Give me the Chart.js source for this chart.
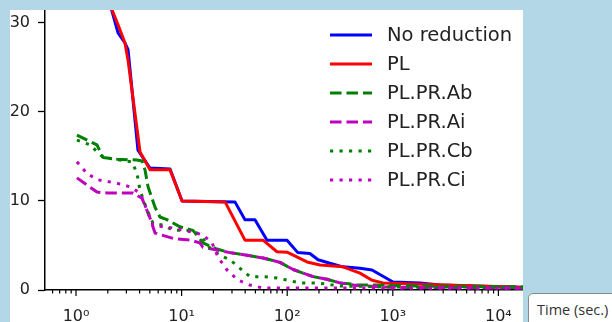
<!DOCTYPE html>
<html><head><meta charset="utf-8">
<script src="https://cdn.jsdelivr.net/npm/chart.js@4.4.1/dist/chart.umd.min.js"></script>
<style>
html,body{margin:0;padding:0;}
body{width:612px;height:322px;background:#b3d7e6;position:relative;overflow:hidden;}
#panel{position:absolute;left:10px;top:10px;width:513px;height:312px;background:#fff;}
#c{display:block;}
#tag{position:absolute;left:528px;top:293px;width:100px;height:40px;box-sizing:border-box;border:1px solid #8a8a8a;border-radius:5px;background:#fff;font-family:'Open Sans',sans-serif;font-size:14.5px;line-height:19px;color:#333;padding:6px 0 0 8px;white-space:nowrap;}
</style></head>
<body>
<div id="panel"><canvas id="c" width="513" height="312"></canvas></div>
<div id="tag">Time (sec.)</div>
<script>
// ---- data (time in seconds, value) ----
const seriesLabels = ['No reduction','PL','PL.PR.Ab','PL.PR.Ai','PL.PR.Cb','PL.PR.Ci'];
const noReduction = [[2.0,33],[2.5,28.9],[2.91,27.75],[3.11,27.0],[3.86,15.7],[5.02,13.7],[7.77,13.6],[10.1,10.0],[32.0,9.9],[39.8,7.9],[49.5,7.9],[64.4,5.6],[99.6,5.6],[126,4.2],[164,4.1],[196,3.4],[254,3.0],[337,2.6],[489,2.45],[635,2.25],[1005,0.9],[1811,0.8],[2800,0.55],[20000,0.25]];
const pl = [[2.0,33],[2.19,31.5],[2.5,29.8],[2.91,27.75],[3.11,25.8],[4.04,15.5],[5.02,13.5],[7.77,13.5],[10.1,10.0],[25.8,9.9],[39.8,5.6],[59.0,5.6],[80,4.3],[99.6,4.25],[154,3.15],[205,2.8],[337,2.6],[489,1.9],[635,1.1],[807,0.8],[1811,0.65],[20000,0.3]];
const plPrAb = [[1.02,17.4],[1.58,16.3],[1.80,14.9],[2.44,14.7],[3.78,14.6],[4.22,14.5],[4.50,13.5],[4.81,11.6],[5.60,9.3],[6.24,8.2],[7.27,7.9],[9.66,7.1],[12.8,6.7],[14.3,6.0],[15.9,5.3],[21.6,4.6],[28.7,4.2],[41.6,3.9],[59.0,3.6],[68.7,3.4],[85.5,3.1],[114,2.3],[141,1.9],[176,1.5],[238,1.2],[316,0.8],[458,0.6],[1000,0.5],[3000,0.4],[20000,0.35]];
const plPrAi = [[1.02,12.6],[1.58,11.0],[1.97,10.9],[3.47,10.9],[4.22,10.3],[5.02,8.1],[5.60,6.4],[8.29,5.8],[12.0,5.6],[14.9,5.3],[15.9,4.8],[21.6,4.5],[28.7,4.2],[41.6,3.9],[59.0,3.6],[68.7,3.4],[85.5,3.1],[114,2.3],[141,1.9],[176,1.5],[238,1.2],[316,0.8],[458,0.5],[1000,0.3],[20000,0.2]];
const plPrCb = [[1.02,16.85],[1.36,16.3],[1.80,14.9],[3.39,14.4],[3.78,13.1],[4.04,11.2],[4.70,9.0],[5.36,7.5],[6.66,7.3],[8.29,6.7],[11.2,6.7],[14.0,6.4],[15.9,5.8],[18.6,4.7],[23.1,3.9],[28.7,3.4],[37.3,2.25],[44.4,1.5],[59.0,1.5],[80.0,1.35],[132,0.8],[192,0.8],[316,0.45],[1000,0.35],[20000,0.3]];
const plPrCi = [[1.02,14.4],[1.27,13.1],[1.58,12.4],[2.44,12.0],[3.24,11.6],[4.04,10.9],[5.02,8.1],[5.36,7.3],[6.66,7.1],[8.29,6.97],[12.8,6.5],[15.9,6.18],[19.4,5.3],[22.1,3.7],[26.9,2.25],[34.2,1.12],[44.4,0.56],[59.0,0.22],[20000,0.2]];
const yTickValues = [0,10,20,30];
const xRange = [0.5085, 17100];
const yRange = [0, 31.46];

// ---- styles ----
const styles = [
  {color:'#0000ff', dash:[]},
  {color:'#ff0000', dash:[]},
  {color:'#008000', dash:[11.5,5]},
  {color:'#bf00bf', dash:[11.5,5]},
  {color:'#008000', dash:[3.2,6.3]},
  {color:'#bf00bf', dash:[3.2,6.3]}
];
const allSeries = [noReduction, pl, plPrAb, plPrAi, plPrCb, plPrCi];
const LW = 3;

const sup = {'0':'\u2070','1':'\u00b9','2':'\u00b2','3':'\u00b3','4':'\u2074','5':'\u2075','-':'\u207b'};
function powLabel(v){
  const e = Math.round(Math.log10(v));
  return '10' + String(e).split('').map(ch=>sup[ch]).join('');
}

const datasets = allSeries.map((s,i)=>({
  label: seriesLabels[i],
  data: s.map(([x,y])=>({x:x,y:y})),
  borderColor: styles[i].color,
  backgroundColor: styles[i].color,
  borderDash: styles[i].dash,
  borderWidth: LW,
  borderCapStyle: 'butt',
  borderJoinStyle: 'round',
  pointRadius: 0,
  tension: 0,
  fill: false,
  order: allSeries.length - i
}));

const tickPlugin = {
  id:'mplTicks',
  afterDraw(chart){
    const s = chart.scales.x, ctx = chart.ctx, y0 = chart.chartArea.bottom;
    ctx.save();
    ctx.strokeStyle = '#000';
    ctx.lineWidth = 1.2;
    s.ticks.forEach(t=>{
      const px = s.getPixelForValue(t.value);
      const len = t.major ? 6 : 3.5;
      ctx.beginPath(); ctx.moveTo(px, y0); ctx.lineTo(px, y0+len); ctx.stroke();
    });
    ctx.restore();
  }
};

const legendPlugin = {
  id:'mplLegend',
  afterDraw(chart){
    const ctx = chart.ctx;
    const W = chart.width;
    const lx0 = W - 193, lx1 = W - 151, tx = W - 136;
    const y0 = 25, dy = 29;
    ctx.save();
    chart.data.datasets.forEach((ds,i)=>{
      const y = y0 + i*dy;
      ctx.strokeStyle = ds.borderColor;
      ctx.lineWidth = ds.borderWidth;
      ctx.lineCap = 'butt';
      ctx.setLineDash(ds.borderDash);
      ctx.beginPath(); ctx.moveTo(lx0, y); ctx.lineTo(lx1, y); ctx.stroke();
      ctx.setLineDash([]);
      ctx.fillStyle = '#222';
      ctx.font = '19.5px "DejaVu Sans"';
      ctx.textBaseline = 'middle';
      ctx.textAlign = 'left';
      ctx.fillText(ds.label, tx, y+1);
    });
    ctx.restore();
  }
};

new Chart(document.getElementById('c'), {
  type:'line',
  data:{datasets:datasets},
  options:{
    responsive:false,
    animation:false,
    devicePixelRatio:1,
    layout:{padding:0},
    plugins:{legend:{display:false}, tooltip:{enabled:false}},
    scales:{
      x:{
        type:'logarithmic',
        min:xRange[0], max:xRange[1],
        grid:{display:true, drawOnChartArea:false, drawTicks:false},
        border:{display:true, color:'#000', width:1.5},
        afterBuildTicks(scale){
          const t=[];
          for(let e=-1;e<=5;e++){
            for(let m=1;m<=9;m++){
              const v = m*Math.pow(10,e);
              if(v>=xRange[0] && v<=xRange[1]) t.push({value:v, major:m===1});
            }
          }
          scale.ticks = t;
        },
        ticks:{
          autoSkip:false, maxRotation:0, minRotation:0, padding:17,
          color:'#222', font:{family:'DejaVu Sans', size:16},
          callback:(v,i,ticks)=> (ticks[i] && ticks[i].major) ? powLabel(v) : ''
        },
        afterFit(scale){ scale.height = 32; scale.paddingLeft = 0; scale.paddingRight = 0; }
      },
      y:{
        type:'linear',
        min:yRange[0], max:yRange[1],
        grid:{display:true, drawOnChartArea:false, drawTicks:true, tickLength:7, tickColor:'#000', tickWidth:1.3},
        border:{display:true, color:'#000', width:1.5},
        afterBuildTicks(scale){ scale.ticks = yTickValues.map(v=>({value:v})); },
        ticks:{padding:8, color:'#222', font:{family:'DejaVu Sans', size:16}},
        afterFit(scale){ scale.width = 35; scale.paddingTop = 0; scale.paddingBottom = 0; }
      }
    }
  },
  plugins:[tickPlugin, legendPlugin]
});
</script>
</body></html>
